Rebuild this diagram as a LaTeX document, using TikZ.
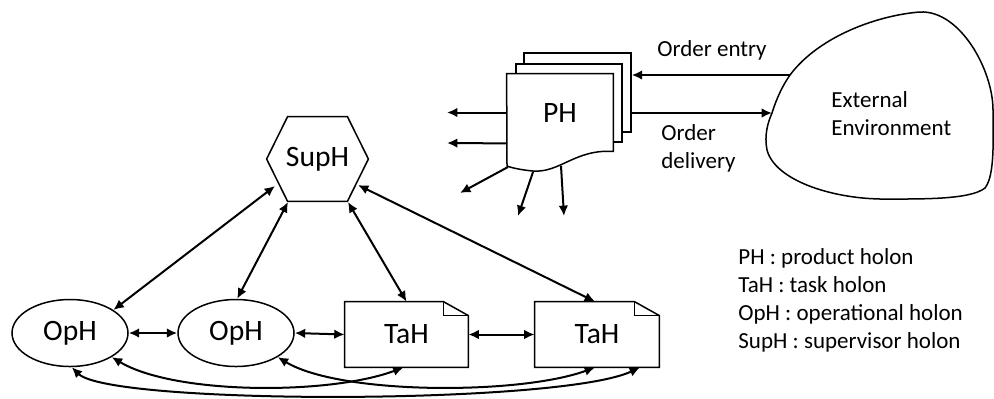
\documentclass[tikz,border=0pt]{standalone}
\usepackage{fontspec}
\setmainfont{Carlito}
\usetikzlibrary{shapes.geometric,arrows.meta,calc,backgrounds}
\begin{document}
\begin{tikzpicture}[x=0.5pt,y=-0.5pt,
  shp/.style={draw, line width=0.75pt, fill=white},
  arr/.style={line width=1pt, -{Latex[length=5.2pt,width=4.8pt]}},
  darr/.style={line width=1pt, {Latex[length=5.2pt,width=4.8pt]}-{Latex[length=5.2pt,width=4.8pt]}},
  big/.style={font=\fontsize{14.8}{17}\selectfont},
  lbl/.style={font=\fontsize{11.5}{14}\selectfont, inner sep=0},
  oph/.style={shp, ellipse, big, minimum width=58pt, minimum height=33.5pt, inner sep=0},
  tah/.style={big, minimum width=61.5pt, minimum height=32.5pt, inner sep=0},
  outl/.style={line width=0.75pt},
]
\useasboundingbox (0,0) rectangle (994,398);

% ---------- PH stack ----------
\node[big, minimum width=53pt, minimum height=38.5pt, inner sep=0] (ph) at (560,112.5) {PH};
\begin{scope}[on background layer]
  \node[shp, minimum width=53.5pt, minimum height=39.5pt, inner sep=0] (ph3) at (577.5,92.5) {};
  \node[shp, minimum width=53pt, minimum height=39pt, inner sep=0] (ph2) at (569,103) {};
  \draw[shp] (ph.north west) -- (ph.north east) -- (ph.south east)
    .. controls (575,149) and (560,173) .. (533,171)
    .. controls (522,170) and (512,168) .. (507,166) -- cycle;
\end{scope}

\coordinate (l1) at (447,112.5);
\coordinate (l2) at (447,143);
\coordinate (w1) at (508,167);
\coordinate (w2) at (533,172);
\coordinate (w3) at (561,166);
\coordinate (d1) at (460,193);
\coordinate (d2) at (518,216);
\coordinate (d3) at (564,216);
\draw[arr] (ph.west) -- (l1);
\draw[arr] ($(ph.south west)+(0,-8)$) -- (l2);
\draw[arr] (w1) -- (d1);
\draw[arr] (w2) -- (d2);
\draw[arr] (w3) -- (d3);

% ---------- External environment ----------
\draw[shp] (790,75) coordinate (ce)
  .. controls (820,35) and (880,15) .. (920,12)
  .. controls (960,10) and (993,70) .. (993,110)
  .. controls (993,140) and (995,175) .. (985,188)
  .. controls (970,200) and (920,199) .. (880,199)
  .. controls (830,198) and (775,180) .. (767,150)
  .. controls (764,135) and (768,122) .. (772,113) coordinate (cd)
  .. controls (777,97) and (783,85) .. (790,75) -- cycle;
\node[lbl, align=left, anchor=west] (env) at (831,114) {External\\Environment};

\draw[arr] (ce) -- (ce -| ph3.east);
\draw[arr] (cd -| ph3.east) -- (cd);
\node[lbl] (oe) at (712,50) {Order entry};
\node[lbl, align=left, anchor=west] (od) at (661,148.5) {Order\\delivery};

% ---------- Holons ----------
\node[big, minimum width=50.5pt, minimum height=42pt, inner sep=0] (sup) at (317.5,159) {SupH};
\draw[outl] (sup.west) -- ($(sup.north west)+(21,0)$) -- ($(sup.north east)+(-21,0)$)
  -- (sup.east) -- ($(sup.south east)+(-21,0)$) -- ($(sup.south west)+(21,0)$) -- cycle;

\node[oph] (op1) at (70,333) {OpH};
\node[oph] (op2) at (236,333) {OpH};
\node[tah] (tah1) at (406.5,334.5) {TaH};
\node[tah, minimum width=62pt] (tah2) at (597,334.5) {TaH};
\foreach \n in {tah1,tah2}{
  \draw[outl] (\n.north west) -- ($(\n.north east)+(-25,0)$) -- ($(\n.north east)+(0,14)$)
    -- (\n.south east) -- (\n.south west) -- cycle;
  \draw[outl] ($(\n.north east)+(-25,0)$) |- ($(\n.north east)+(0,14)$);
}

% vertical links
\draw[darr] (op1.28) -- ($(sup.center)+(-42.5,27)$);
\draw[darr] (op2.88) -- ($(sup.center)+(-29.5,43)$);
\draw[darr] (tah1.north) -- ($(sup.center)+(30.5,43)$);
\draw[darr] ([xshift=-1pt]tah2.north) -- ($(sup.center)+(40.5,26)$);

% horizontal links
\draw[darr] (op1.east) -- (op2.west);
\draw[darr] (op2.east) -- (tah1.west);
\draw[darr] (tah1.east) -- (tah2.west);

% curved links
\draw[darr] (op1.-30) .. controls (175,395) and (330,395) .. ([xshift=-1.5pt]tah1.south);
\draw[darr] (op2.-30) .. controls (340,395) and (520,395) .. ([xshift=-1pt]tah2.south);
\draw[darr] (op1.-87) .. controls (110,405) and (560,405) .. ([xshift=21.5pt]tah2.south);

% ---------- Legend ----------
\node[lbl, align=left, anchor=west] (leg) at (738,300)
  {PH : product holon\\TaH : task holon\\OpH : operational holon\\SupH : supervisor holon};
\end{tikzpicture}
\end{document}
